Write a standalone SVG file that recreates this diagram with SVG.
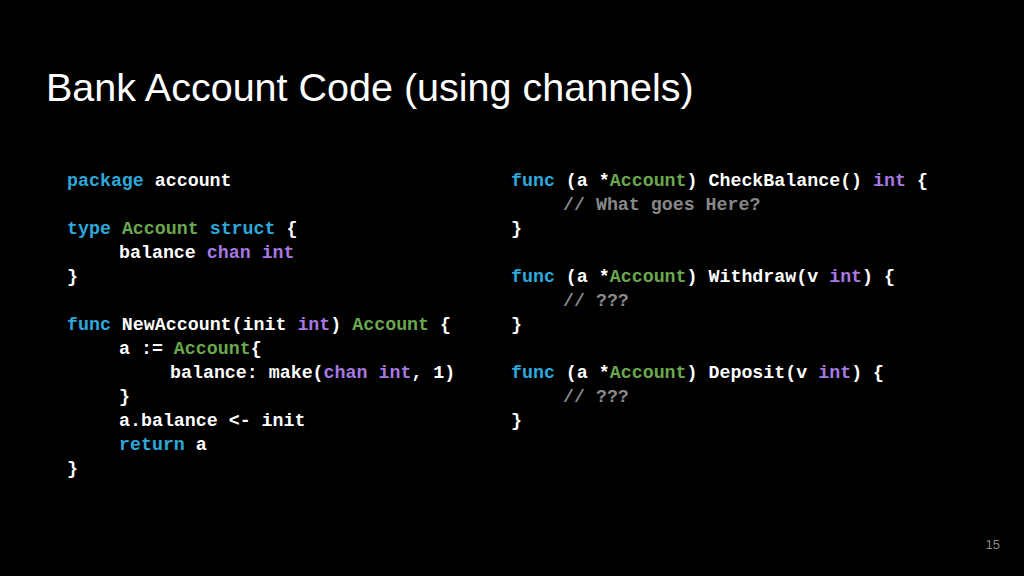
<svg xmlns="http://www.w3.org/2000/svg" width="1024" height="576" viewBox="0 0 1024 576">
<style>
.c{font-family:"Liberation Mono","DejaVu Sans Mono",monospace;font-size:18.3px;fill:#ffffff;font-weight:bold}
.k{fill:#2ea8dc}.t{fill:#6aa84f}.p{fill:#a678e0}.g{fill:#888888}
</style>
<rect width="1024" height="576" fill="#000"/>
<text x="46" y="101" font-family="Liberation Sans,Arial,sans-serif" font-size="39.5" fill="#fff">Bank Account Code (using channels)</text>
<g id="left" class="c" xml:space="preserve">
<text x="67" y="186"><tspan class="k">package</tspan> account</text>
<text x="67" y="234"><tspan class="k">type</tspan> <tspan class="t">Account</tspan> <tspan class="k">struct</tspan> {</text>
<text x="119" y="258">balance <tspan class="p">chan</tspan> <tspan class="p">int</tspan></text>
<text x="67" y="282">}</text>
<text x="67" y="330"><tspan class="k">func</tspan> NewAccount(init <tspan class="p">int</tspan>) <tspan class="t">Account</tspan> {</text>
<text x="119" y="354">a := <tspan class="t">Account</tspan>{</text>
<text x="170" y="378">balance: make(<tspan class="p">chan</tspan> <tspan class="p">int</tspan>, 1)</text>
<text x="119" y="402">}</text>
<text x="119" y="426">a.balance &lt;- init</text>
<text x="119" y="450"><tspan class="k">return</tspan> a</text>
<text x="67" y="474">}</text>
</g>
<g id="right" class="c" xml:space="preserve">
<text x="511" y="186"><tspan class="k">func</tspan> (a *<tspan class="t">Account</tspan>) CheckBalance() <tspan class="p">int</tspan> {</text>
<text x="563" y="210" class="g">// What goes Here?</text>
<text x="511" y="234">}</text>
<text x="511" y="282"><tspan class="k">func</tspan> (a *<tspan class="t">Account</tspan>) Withdraw(v <tspan class="p">int</tspan>) {</text>
<text x="563" y="306" class="g">// ???</text>
<text x="511" y="330">}</text>
<text x="511" y="378"><tspan class="k">func</tspan> (a *<tspan class="t">Account</tspan>) Deposit(v <tspan class="p">int</tspan>) {</text>
<text x="563" y="402" class="g">// ???</text>
<text x="511" y="426">}</text>
</g>
<text x="1000" y="549" text-anchor="end" font-family="Liberation Sans,Arial,sans-serif" font-size="13" fill="#888">15</text>
</svg>
